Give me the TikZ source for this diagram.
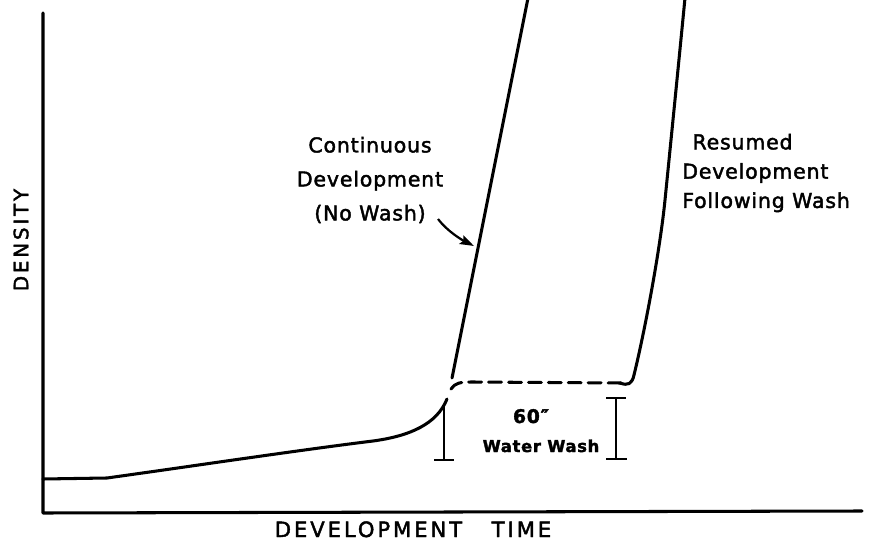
\documentclass[tikz,border=0pt]{standalone}
\usepackage{fontspec}
\setmainfont{DejaVu Sans}[LetterSpace=4,FakeBold=2]
\newfontfamily\capsfont{DejaVu Sans}[LetterSpace=14,FakeBold=2]
\usetikzlibrary{arrows.meta}

\begin{document}
\begin{tikzpicture}[x=0.03cm,y=-0.03cm,
    curve/.style={line width=2.6pt,line cap=round,line join=round},
    tick/.style={line width=1.6pt},
    lbl/.style={inner sep=0pt,font=\fontsize{17.5}{24}\selectfont}]
        \useasboundingbox (0,0) rectangle (869,542);

        \draw[curve] (43,13) -- (43,513) -- (862,511);

        \draw[curve] (43,479) -- (107,478)
        .. controls (200,465) and (300,450) .. (373,441)
        .. controls (410,436) and (437,424) .. (447,399);
        \draw[curve,dash pattern=on 11pt off 6pt] (451,389)
        .. controls (455,383) and (460,382) .. (472,382) -- (622,383);
        \draw[curve] (620,383) .. controls (628,386) and (632,384) .. (634,375)
        .. controls (645,330) and (660,250) .. (665,200)
        .. controls (671,140) and (678,70) .. (685,-2);
        \draw[curve] (452,378) -- (528,-2);

        \draw[tick] (444,407) -- (444,460);
        \draw[tick] (434,460) -- (454,460);
        \draw[tick] (616,398) -- (616,459);
        \draw[tick] (606,398) -- (626,398);
        \draw[tick] (606,459) -- (627,459);

        \node[lbl,rotate=90,font=\fontsize{17}{20}\selectfont] (ylab) at (21,240) {\capsfont DENSITY};
        \node[lbl,anchor=base,font=\fontsize{18}{20}\selectfont] (xlab) at (413,537) {\capsfont DEVELOPMENT\hspace{1.4em}TIME};

        \node[lbl,align=center,font=\fontsize{17.5}{29}\selectfont] (contlab) at (370,180)
        {Continuous\\Development\\(No Wash)};
        \node[lbl,align=left,font=\fontsize{17.5}{25}\selectfont,anchor=west] (resumelab) at (682,173)
        {\hspace*{0.5em}Resumed\\Development\\Following Wash};

        \node[lbl,anchor=base,font=\fontsize{16}{18}\bfseries] (washtime) at (531,423) {60″};
        \node[lbl,anchor=base,font=\fontsize{14}{16}\bfseries] (washlab) at (541,452) {Water Wash};

        \coordinate (tail) at (438,219);
        \coordinate (hit) at (474,246);
        \draw[line width=1.9pt,-{Stealth[length=12pt,width=8pt,inset=2pt]}] (tail)
        .. controls (447,231) and (462,240) .. (hit);

      \end{tikzpicture}
\end{document}
